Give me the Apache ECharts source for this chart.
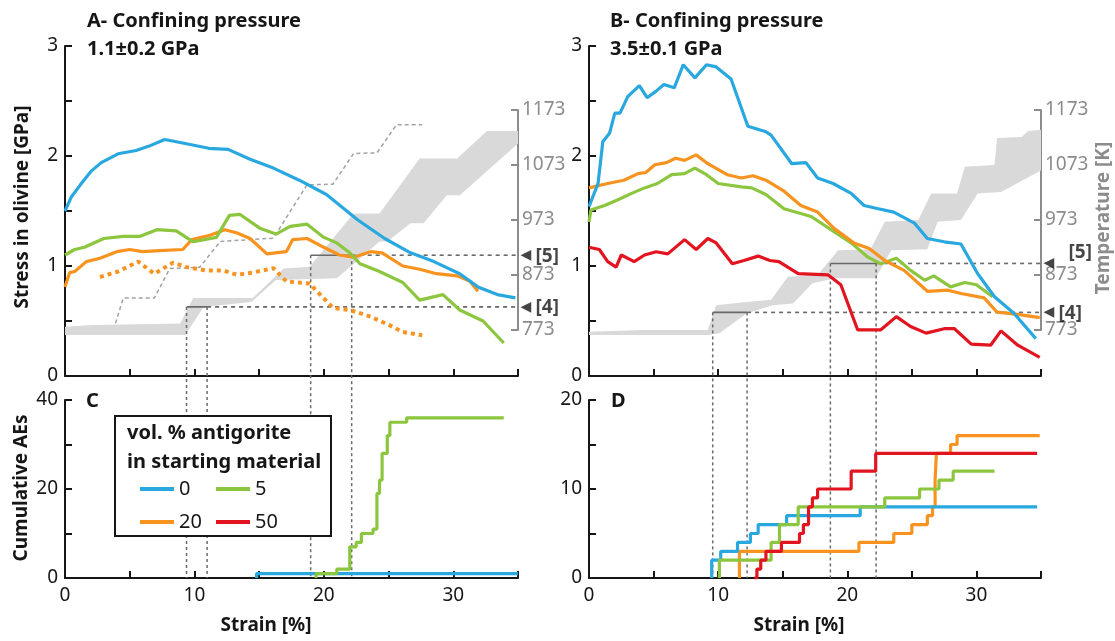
<!DOCTYPE html>
<html>
<head>
<meta charset="utf-8">
<script src="https://cdn.jsdelivr.net/npm/echarts@6/dist/echarts.min.js"></script>
<style>
html,body{margin:0;padding:0;background:#fff;}
#chart{width:1115px;height:641px;}
</style>
</head>
<body>
<div id="chart"></div>
<script>
// ---------------- DATA ----------------
// Panel A (1.1 GPa): stress in olivine [GPa] vs strain [%]
const aBlue = [[0,1.50],[0.5,1.63],[1.2,1.74],[2.0,1.86],[2.8,1.94],[4.1,2.02],[5.5,2.05],[6.5,2.09],[7.7,2.15],[9.0,2.12],[11.1,2.07],[12.6,2.06],[14.3,1.97],[16.1,1.89],[18.1,1.78],[20.2,1.65],[22.6,1.42],[24.7,1.25],[26.7,1.12],[28.5,1.04],[30.5,0.93],[31.9,0.81],[33.4,0.74],[34.8,0.71]];
const aGreen = [[0,1.10],[0.75,1.15],[1.5,1.17],[3.0,1.25],[4.5,1.27],[5.8,1.27],[7.1,1.33],[8.6,1.32],[9.9,1.22],[11.7,1.26],[12.7,1.46],[13.5,1.47],[15.1,1.34],[16.3,1.29],[17.4,1.36],[18.7,1.38],[20.0,1.26],[21.0,1.21],[22.0,1.12],[22.8,1.02],[24.3,0.95],[26.1,0.85],[27.4,0.69],[29.2,0.74],[30.5,0.60],[32.3,0.50],[33.9,0.30]];
const aOrange = [[0,0.81],[0.36,0.94],[0.75,0.95],[1.65,1.04],[2.7,1.07],[4.0,1.13],[5.0,1.15],[6.0,1.13],[7.3,1.14],[9.1,1.15],[9.8,1.24],[11.2,1.28],[12.35,1.33],[13.3,1.30],[14.3,1.25],[15.6,1.11],[17.1,1.13],[17.6,1.24],[18.7,1.25],[20.0,1.17],[21.2,1.10],[22.3,1.08],[23.6,1.13],[24.5,1.12],[26.1,1.00],[27.4,0.97],[28.7,0.93],[30.3,0.91],[31.3,0.86],[31.9,0.77]];
const aOrangeDotted = [[2.7,0.90],[4.1,0.95],[5.65,1.04],[6.9,0.93],[8.35,1.03],[9.4,0.99],[10.9,0.96],[12.2,0.96],[13.3,0.92],[14.5,0.94],[16.1,0.98],[17.1,0.86],[18.9,0.84],[20.7,0.62],[22.0,0.60],[23.6,0.54],[25.1,0.46],[26.1,0.40],[27.6,0.37]];
// Panel A temperature [K]
const aBandUpper = [[0,779],[2.2,782],[8.9,785],[9.9,831],[14.5,831],[16.9,885],[18.9,888],[22.3,985],[24.3,985],[27.4,1085],[30.3,1085],[32.6,1135],[35,1135]];
const aBandLower = [[0,764],[9.3,764],[10.7,815],[14.4,824],[16.3,864],[21.0,867],[24.3,934],[24.9,934],[26.7,967],[27.7,967],[29.5,1018],[30.5,1018],[35,1112]];
const aTempDashed = [[3.9,785],[4.5,831],[6.9,831],[8.1,885],[10.4,887],[12.0,934],[16.1,940],[18.7,1037],[20.7,1038],[22.3,1094],[24.1,1095],[25.6,1146],[27.6,1146]];
const aLevel4 = 815, aLevel5 = 909;
const aStrain4 = [9.39, 10.98], aStrain5 = [18.98, 22.15];

// Panel B (3.5 GPa)
const bBlue = [[0,1.54],[0.7,1.75],[1.07,2.13],[1.6,2.21],[2.0,2.39],[2.4,2.39],[3.0,2.54],[3.9,2.64],[4.5,2.53],[5.2,2.59],[5.8,2.65],[6.6,2.62],[7.3,2.83],[8.2,2.71],[9.1,2.83],[9.85,2.81],[11.0,2.70],[12.3,2.27],[13.7,2.22],[14.1,2.19],[15.7,1.93],[16.8,1.94],[17.7,1.80],[18.9,1.75],[20.3,1.66],[21.3,1.55],[22.4,1.52],[23.6,1.49],[25.2,1.39],[26.2,1.25],[27.5,1.22],[28.8,1.20],[30.1,0.93],[31.4,0.72],[32.9,0.57],[34.6,0.34]];
const bOrange = [[0,1.71],[1.45,1.75],[2.7,1.78],[3.8,1.84],[4.4,1.85],[5.1,1.92],[6.0,1.94],[6.7,1.98],[7.4,1.96],[8.3,2.01],[9.2,1.93],[10.7,1.83],[11.8,1.80],[12.7,1.82],[13.7,1.78],[15.1,1.68],[16.4,1.55],[17.7,1.49],[19.0,1.34],[20.5,1.21],[21.7,1.16],[22.9,1.05],[24.4,0.96],[26.2,0.77],[27.8,0.78],[28.8,0.75],[30.6,0.71],[31.6,0.58],[33.2,0.56],[34.9,0.53]];
const bGreen = [[0,1.40],[0.15,1.51],[1.2,1.55],[2.2,1.60],[3.3,1.66],[4.3,1.71],[5.3,1.75],[6.4,1.83],[7.4,1.84],[8.2,1.89],[9.1,1.83],[10.0,1.75],[11.8,1.72],[12.6,1.71],[13.7,1.65],[15.1,1.52],[17.2,1.45],[19.0,1.31],[20.3,1.21],[21.6,1.08],[22.6,1.02],[23.8,1.07],[24.9,0.96],[26.0,0.87],[26.7,0.91],[28.0,0.81],[29.1,0.85],[30.0,0.83],[31.25,0.72]];
const bRed = [[0,1.17],[0.8,1.15],[1.45,1.04],[2.1,0.99],[2.5,1.10],[3.5,1.04],[4.3,1.10],[5.2,1.13],[6.1,1.11],[7.4,1.24],[8.3,1.15],[9.2,1.25],[9.85,1.21],[11.1,1.02],[12.0,1.05],[13.1,1.09],[14.0,1.05],[14.7,1.04],[16.2,0.93],[18.5,0.92],[19.5,0.83],[20.8,0.42],[22.6,0.42],[23.8,0.54],[24.9,0.45],[26.1,0.39],[27.5,0.43],[28.3,0.43],[29.6,0.29],[31.1,0.28],[31.9,0.41],[33.2,0.28],[34.9,0.17]];
const bBandUpper = [[0,770],[4.2,773],[9.2,773],[9.85,818],[11.8,823],[14.1,828],[15.4,870],[17.7,873],[19.3,918],[21.8,920],[22.9,970],[25.5,973],[26.5,1021],[28.5,1021],[29.1,1070],[31.4,1073],[31.6,1122],[33.5,1124],[34.0,1135],[35,1137]];
const bBandLower = [[0,764],[9.2,764],[10.1,767],[12.2,803],[14.2,818],[15.8,821],[17.3,858],[19.1,867],[22.2,867],[23.4,918],[26.2,920],[27.0,970],[28.8,973],[30.1,1021],[31.9,1024],[35,1063]];
const bLevel4 = 805, bLevel5 = 894;
const bStrain4 = [9.58, 12.24], bStrain5 = [18.69, 22.23];

// Panel C / D: cumulative acoustic emissions
const cBlue = [[14.8,0],[14.8,1],[35,1]];
const cGreen = [[19.4,0],[19.4,1],[21.0,2],[22.0,7],[22.5,8],[22.9,10],[23.8,11],[24.1,19],[24.3,22],[24.5,28],[24.9,32],[25.1,35],[26.4,36],[33.9,36]];
const dBlue = [[9.5,0],[9.5,2],[10.2,3],[11.5,4],[12.5,5],[13.1,6],[15.3,7],[21.0,8],[34.7,8]];
const dGreen = [[10.1,0],[10.1,2],[14.1,4],[14.75,6],[16.2,8],[22.9,9],[25.6,10],[27.1,11],[28.2,12],[31.4,12]];
const dOrange = [[11.65,0],[11.65,3],[20.9,4],[23.6,5],[25.0,6],[26.2,7],[26.6,8],[26.8,11],[26.9,14],[28.0,15],[28.5,16],[34.9,16]];
const dRed = [[12.8,0],[13.0,1],[13.3,2],[13.7,3],[14.9,4],[16.3,5],[16.6,6],[17.0,8],[17.3,9],[17.7,10],[20.3,12],[22.2,14],[34.7,14]];

// axis ranges & labels
const strainRange = [0, 35];
const stressRange = [0, 3];
const tempRange = [773, 1173];
const aeRangeC = [0, 40];
const aeRangeD = [0, 20];
const legendNames = ['0', '5', '20', '50'];
const titles = {
  a1: 'A- Confining pressure', a2: '1.1\u00b10.2 GPa',
  b1: 'B- Confining pressure', b2: '3.5\u00b10.1 GPa'
};

// ---------------- STYLE / LAYOUT ----------------
const FONT = '"Noto Sans", "Open Sans", sans-serif';
const C_BLUE = '#29a8e0', C_GREEN = '#8cc63f', C_ORANGE = '#f7931e', C_RED = '#e2141f';
const C_GRAY = '#8c8c8c', C_BAND = '#d9d9d9', C_GUIDE = '#6a6a6a', C_INK = '#161616';

const L = { aLeft: 65, bLeft: 589, w: 453, wB: 452, topTop: 46, topH: 330, tempTop: 110, tempH: 220, aeTop: 400, aeH: 178 };
// temperature value at the bottom (x-axis) of the AE panels, for guides that run down through both panels
const pxPerK = L.tempH / (tempRange[1] - tempRange[0]);
const T_AE_BOTTOM = tempRange[0] - ((L.aeTop + L.aeH) - (L.tempTop + L.tempH)) / pxPerK;

const grids = [
  { left: L.aLeft, top: L.topTop, width: L.w, height: L.topH },
  { left: L.aLeft, top: L.tempTop, width: L.w, height: L.tempH },
  { left: L.aLeft, top: L.aeTop, width: L.w, height: L.aeH },
  { left: L.bLeft, top: L.topTop, width: L.wB, height: L.topH },
  { left: L.bLeft, top: L.tempTop, width: L.wB, height: L.tempH },
  { left: L.bLeft, top: L.aeTop, width: L.wB, height: L.aeH }
];

function xAx(gi, showLabels, visible) {
  return {
    type: 'value', gridIndex: gi, min: strainRange[0], max: strainRange[1], interval: 5, show: visible,
    axisLine: { show: true, onZero: false, lineStyle: { color: C_INK, width: 2 } },
    axisTick: { show: true, inside: true, length: 7, lineStyle: { color: C_INK, width: 2 } },
    axisLabel: { show: showLabels, formatter: v => (v % 10 === 0 ? String(v) : ''), fontFamily: FONT, fontSize: 19, color: C_INK, margin: 8 },
    splitLine: { show: false }
  };
}
function yAx(gi, range, interval, labelEvery) {
  return {
    type: 'value', gridIndex: gi, min: range[0], max: range[1], interval: interval,
    axisLine: { show: true, onZero: false, lineStyle: { color: C_INK, width: 2 } },
    axisTick: { show: true, inside: true, length: 7, lineStyle: { color: C_INK, width: 2 } },
    axisLabel: { formatter: v => (Math.abs(v % labelEvery) < 1e-9 ? String(v) : ''), fontFamily: FONT, fontSize: 19, color: C_INK, margin: 7 },
    splitLine: { show: false }
  };
}
function tAx(gi) {
  return {
    type: 'value', gridIndex: gi, position: 'right', min: tempRange[0], max: tempRange[1], interval: 100,
    axisLine: { show: true, onZero: false, lineStyle: { color: C_GRAY, width: 2 } },
    axisTick: { show: true, inside: true, length: 7, lineStyle: { color: C_GRAY, width: 2 } },
    axisLabel: { formatter: v => String(v), fontFamily: FONT, fontSize: 19, color: C_GRAY, margin: 4 },
    splitLine: { show: false }
  };
}

function lineS(name, data, xi, color, extra) {
  return Object.assign({
    type: 'line', name: name, data: data, xAxisIndex: xi, yAxisIndex: xi, symbol: 'none',
    color: color, lineStyle: { color: color, width: 3.2 }, z: 5, silent: true
  }, extra || {});
}
function bandS(upper, lower, xi) {
  const outline = upper.concat(lower.slice().reverse());
  return {
    type: 'custom', name: 'band', xAxisIndex: xi, yAxisIndex: xi, data: outline, clip: false, z: 1, silent: true,
    encode: { x: 0, y: 1 },
    renderItem: function (params, api) {
      if (params.dataIndex !== 0) return;
      const pts = outline.map(p => api.coord(p));
      return { type: 'polygon', shape: { points: pts }, style: { fill: C_BAND } };
    }
  };
}
function guides(xi, level, strains, labelText, textOffset) {
  const out = [];
  out.push({ type: 'line', name: 'g', xAxisIndex: xi, yAxisIndex: xi, symbol: 'none', silent: true, z: 3,
    data: [[strains[0], level], [strains[1], level]], lineStyle: { color: C_GUIDE, width: 1.6 } });
  out.push({ type: 'line', name: 'g', xAxisIndex: xi, yAxisIndex: xi, symbol: 'none', silent: true, z: 3,
    data: [[strains[1], level], [strainRange[1], level]], lineStyle: { color: C_GUIDE, width: 1.6, type: [4, 4] } });
  strains.forEach(s => {
    out.push({ type: 'line', name: 'g', xAxisIndex: xi, yAxisIndex: xi, symbol: 'none', silent: true, z: 3, clip: false,
      data: [[s, level], [s, T_AE_BOTTOM]], lineStyle: { color: C_GUIDE, width: 1.5, type: [3, 3] } });
  });
  out.push({ type: 'scatter', name: 'lbl', xAxisIndex: xi, yAxisIndex: xi, silent: true, z: 6, clip: false,
    symbol: 'circle', symbolSize: 1, itemStyle: { color: 'rgba(0,0,0,0)' },
    data: [
      { value: [strainRange[1], level], label: { show: true, position: 'right', distance: 0, offset: [2, 0], formatter: '\u25C0', fontFamily: '"DejaVu Sans"', fontSize: 14, color: C_INK } },
      { value: [strainRange[1], level], label: { show: true, position: 'right', distance: 0, offset: textOffset, formatter: labelText, fontFamily: FONT, fontWeight: 'bold', fontSize: 19, color: C_INK } }
    ] });
  return out;
}

const series = [].concat(
  // ----- A -----
  [bandS(aBandUpper, aBandLower, 1)],
  [{ type: 'line', name: 'tdash', xAxisIndex: 1, yAxisIndex: 1, symbol: 'none', silent: true, z: 2, data: aTempDashed,
     lineStyle: { color: '#a3a3a3', width: 1.5, type: [4, 3] } }],
  guides(1, aLevel4, aStrain4, '[4]', [17, 1]),
  guides(1, aLevel5, aStrain5, '[5]', [17, 1]),
  [
    lineS('20 dotted', aOrangeDotted, 0, C_ORANGE, { lineStyle: { color: C_ORANGE, width: 4, type: [4, 4], cap: 'butt' } }),
    lineS('20', aOrange, 0, C_ORANGE),
    lineS('5', aGreen, 0, C_GREEN),
    lineS('0', aBlue, 0, C_BLUE)
  ],
  // ----- C -----
  [
    lineS('0', cBlue, 2, C_BLUE, { step: 'end' }),
    lineS('5', cGreen, 2, C_GREEN, { step: 'end' })
  ],
  // ----- B -----
  [bandS(bBandUpper, bBandLower, 4)],
  guides(4, bLevel4, bStrain4, '[4]', [17, 1]),
  guides(4, bLevel5, bStrain5, '[5]', [27, -11]),
  [
    lineS('50', bRed, 3, C_RED),
    lineS('5', bGreen, 3, C_GREEN),
    lineS('20', bOrange, 3, C_ORANGE),
    lineS('0', bBlue, 3, C_BLUE)
  ],
  // ----- D -----
  [
    lineS('20', dOrange, 5, C_ORANGE, { step: 'end' }),
    lineS('0', dBlue, 5, C_BLUE, { step: 'end' }),
    lineS('5', dGreen, 5, C_GREEN, { step: 'end' }),
    lineS('50', dRed, 5, C_RED, { step: 'end' })
  ]
);

function txt(x, y, text, opts) {
  opts = opts || {};
  return {
    type: 'text', x: x, y: y, rotation: opts.rot || 0, z: opts.z || 60, silent: true,
    style: {
      text: text, fill: opts.color || C_INK,
      font: (opts.weight || 'bold') + ' ' + (opts.size || 19) + 'px ' + FONT,
      align: opts.align || 'left', verticalAlign: 'middle',
      textAlign: opts.align || 'left', textVerticalAlign: 'middle'
    }
  };
}

const graphics = [
  txt(87, 21, titles.a1, { size: 20 }),
  txt(87, 49, titles.a2, { size: 20 }),
  txt(610, 21, titles.b1, { size: 20 }),
  txt(610, 49, titles.b2, { size: 20 }),
  txt(23, 207, 'Stress in olivine [GPa]', { rot: Math.PI / 2, align: 'center' }),
  txt(22, 488, 'Cumulative AEs', { rot: Math.PI / 2, align: 'center' }),
  txt(1104, 218, 'Temperature [K]', { rot: Math.PI / 2, align: 'center', color: C_GRAY }),
  txt(266, 626, 'Strain [%]', { align: 'center' }),
  txt(799, 626, 'Strain [%]', { align: 'center' }),
  txt(86, 401, 'C', { size: 20 }),
  txt(611, 401, 'D', { size: 20 }),
  { type: 'rect', z: 50, silent: true, shape: { x: 115, y: 416, width: 216, height: 120 },
    style: { fill: '#fff', stroke: C_INK, lineWidth: 2 } },
  txt(127, 433, 'vol. % antigorite', { size: 20, z: 55 }),
  txt(127, 462, 'in starting material', { size: 20, z: 55 })
];

const option = {
  animation: false,
  backgroundColor: '#ffffff',
  grid: grids,
  xAxis: [xAx(0, false, true), xAx(1, false, false), xAx(2, true, true), xAx(3, false, true), xAx(4, false, false), xAx(5, true, true)],
  yAxis: [yAx(0, stressRange, 0.5, 1), tAx(1), yAx(2, aeRangeC, 10, 20), yAx(3, stressRange, 0.5, 1), tAx(4), yAx(5, aeRangeD, 5, 10)],
  legend: {
    data: legendNames, left: 140, top: 479, width: 150, orient: 'horizontal',
    icon: 'rect', itemWidth: 34, itemHeight: 4, itemGap: 13, selectedMode: false, z: 60, zlevel: 0,
    padding: 0,
    textStyle: { fontFamily: FONT, fontSize: 20, color: C_INK, width: 24, lineHeight: 20 }
  },
  graphic: { elements: graphics },
  series: series
};

const chart = echarts.init(document.getElementById('chart'), null, { renderer: 'canvas' });
chart.setOption(option);
</script>
</body>
</html>
